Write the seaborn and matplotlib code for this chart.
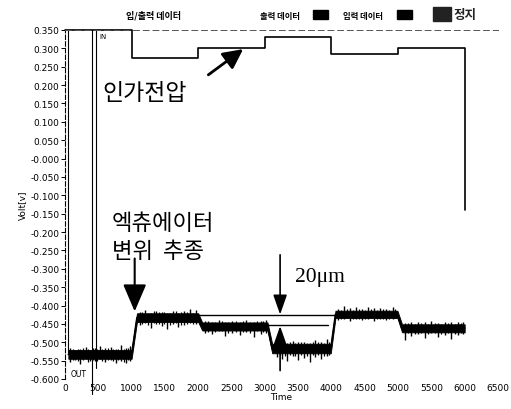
import numpy as np
import pandas as pd
import matplotlib
matplotlib.use("Agg")
import matplotlib.pyplot as plt
import seaborn as sns
from matplotlib.patches import Rectangle

sns.set_theme(style="white")
plt.rcParams['font.family'] = ['Noto Sans CJK KR', 'DejaVu Sans']
plt.rcParams['text.color'] = 'black'
plt.rcParams['axes.labelcolor'] = 'black'
plt.rcParams['xtick.color'] = 'black'
plt.rcParams['ytick.color'] = 'black'

# ---------------- data ----------------
# input (applied voltage) step signal
in_time = [0, 1000, 1000, 2000, 2000, 3000, 3000, 4000, 4000, 5000, 5000, 6000, 6000]
in_volt = [0.350, 0.350, 0.275, 0.275, 0.302, 0.302, 0.330, 0.330, 0.285, 0.285, 0.302, 0.302, -0.140]

# output (actuator displacement) mean level
out_time = [50, 1000, 1080, 2000, 2060, 3040, 3110, 3990, 4060, 4990, 5060, 6000]
out_level = [-0.533, -0.533, -0.433, -0.433, -0.457, -0.457, -0.517, -0.517, -0.424, -0.424, -0.462, -0.462]
out_spread = [0.012, 0.012, 0.012, 0.012, 0.011, 0.011, 0.013, 0.013, 0.010, 0.010, 0.011, 0.011]

# noise spikes of the output trace
spike_time = [80, 150, 230, 310, 380, 450, 520, 600, 690, 760, 840, 920, 980,
              1120, 1200, 1290, 1370, 1450, 1530, 1620, 1700, 1790, 1880, 1960,
              2100, 2200, 2310, 2400, 2500, 2620, 2720, 2830, 2940, 3010,
              3180, 3260, 3340, 3420, 3500, 3590, 3680, 3760, 3850, 3940,
              4100, 4190, 4280, 4370, 4460, 4550, 4640, 4730, 4820, 4920,
              5100, 5200, 5300, 5400, 5500, 5600, 5700, 5800, 5900, 5980]
spike_low = [-0.555, -0.548, -0.560, -0.545, -0.552, -0.550, -0.545, -0.553, -0.548, -0.556, -0.550, -0.557, -0.550,
             -0.452, -0.448, -0.460, -0.450, -0.455, -0.465, -0.450, -0.458, -0.452, -0.448, -0.450,
             -0.475, -0.478, -0.470, -0.482, -0.475, -0.480, -0.472, -0.485, -0.478, -0.476,
             -0.540, -0.545, -0.552, -0.538, -0.548, -0.542, -0.554, -0.540, -0.545, -0.538,
             -0.440, -0.438, -0.442, -0.436, -0.440, -0.438, -0.443, -0.437, -0.440, -0.436,
             -0.494, -0.482, -0.478, -0.488, -0.476, -0.485, -0.479, -0.490, -0.480, -0.478]
spike_high = [-0.515, -0.520, -0.518, -0.512, -0.520, -0.515, -0.510, -0.516, -0.512, -0.518, -0.508, -0.515, -0.510,
              -0.418, -0.412, -0.420, -0.415, -0.418, -0.420, -0.414, -0.420, -0.416, -0.410, -0.412,
              -0.443, -0.445, -0.440, -0.446, -0.442, -0.445, -0.440, -0.446, -0.443, -0.440,
              -0.498, -0.500, -0.502, -0.497, -0.500, -0.498, -0.503, -0.495, -0.500, -0.492,
              -0.410, -0.400, -0.408, -0.405, -0.410, -0.403, -0.408, -0.406, -0.410, -0.404,
              -0.448, -0.445, -0.444, -0.446, -0.443, -0.447, -0.444, -0.446, -0.445, -0.444]

# smaller in-between noise spikes
small_time = [115, 190, 270, 345, 415, 485, 560, 645, 725, 800, 880, 950,
              1160, 1245, 1330, 1410, 1490, 1575, 1660, 1745, 1835, 1920,
              2150, 2255, 2355, 2450, 2560, 2670, 2775, 2885, 2975,
              3220, 3300, 3380, 3460, 3545, 3635, 3720, 3805, 3895, 3970,
              4145, 4235, 4325, 4415, 4505, 4595, 4685, 4775, 4870, 4960,
              5150, 5250, 5350, 5450, 5550, 5650, 5750, 5850, 5940]
small_low = [-0.549, -0.551, -0.547, -0.553, -0.548, -0.550, -0.552, -0.547, -0.551, -0.549, -0.553, -0.548,
             -0.449, -0.452, -0.447, -0.451, -0.449, -0.453, -0.448, -0.452, -0.449, -0.451,
             -0.471, -0.473, -0.470, -0.474, -0.472, -0.471, -0.474, -0.470, -0.472,
             -0.535, -0.537, -0.534, -0.538, -0.535, -0.537, -0.536, -0.534, -0.538, -0.535,
             -0.437, -0.435, -0.438, -0.436, -0.437, -0.435, -0.438, -0.436, -0.437, -0.435,
             -0.476, -0.478, -0.475, -0.477, -0.476, -0.478, -0.475, -0.477, -0.476]
small_high = [-0.517, -0.519, -0.516, -0.518, -0.515, -0.519, -0.517, -0.516, -0.518, -0.517, -0.519, -0.516,
              -0.418, -0.419, -0.416, -0.418, -0.417, -0.419, -0.416, -0.418, -0.417, -0.419,
              -0.443, -0.444, -0.442, -0.444, -0.443, -0.442, -0.444, -0.443, -0.442,
              -0.500, -0.501, -0.499, -0.502, -0.500, -0.501, -0.499, -0.500, -0.502, -0.500,
              -0.411, -0.410, -0.412, -0.410, -0.411, -0.409, -0.412, -0.410, -0.411, -0.410,
              -0.448, -0.449, -0.447, -0.449, -0.448, -0.449, -0.447, -0.449, -0.448]

# cursor lines
cursor_time = [400, 470]
cursor_bottom = [-0.640, -0.570]

# reference lines for the 20 um step
ref_start = [2000, 3020]
ref_end = [4050, 3950]
ref_level = [-0.4245, -0.454]

y_ticks = [0.35 - 0.05 * i for i in range(20)]
x_ticks = list(range(0, 7000, 500))

# ---------------- figure ----------------
fig = plt.figure(figsize=(5.11, 4.10), dpi=100)
ax = fig.add_axes([65 / 511, 30 / 410, 433 / 511, 349 / 410])

df_in = pd.DataFrame({"Time": in_time, "Volt": in_volt})
df_out = pd.DataFrame({"Time": out_time, "Volt": out_level, "spread": out_spread})

# output band
lo = df_out["Volt"] - df_out["spread"]
hi = df_out["Volt"] + df_out["spread"]
ax.fill_between(df_out["Time"], lo, hi, color="black", lw=0.6, edgecolor="black")
ax.vlines(spike_time, spike_low, spike_high, color="black", lw=1.0)
ax.vlines(small_time, small_low, small_high, color="black", lw=0.9)
sns.lineplot(data=df_out, x="Time", y="Volt", estimator=None, sort=False,
             color="black", lw=1.2, ax=ax)

# input step line
sns.lineplot(data=df_in, x="Time", y="Volt", estimator=None, sort=False,
             color="black", lw=1.2, ax=ax, clip_on=False)

# cursor lines
for t, b in zip(cursor_time, cursor_bottom):
    ax.plot([t, t], [0.35, b], color="black", lw=0.8, clip_on=False)
ax.plot([50, 50], [0.35, -0.53], color="black", lw=0.8)

# reference lines
for s, e, v in zip(ref_start, ref_end, ref_level):
    ax.plot([s, e], [v, v], color="black", lw=1.0)

ax.set_xlim(0, 6500)
ax.set_ylim(-0.600, 0.350)
ax.set_xticks(x_ticks)
ax.set_xticklabels([str(t) for t in x_ticks], fontsize=6.5, family="DejaVu Sans")
ax.set_yticks(y_ticks)
ax.set_yticklabels([f"{v:.3f}" for v in y_ticks], fontsize=6.5, family="DejaVu Sans")
ax.tick_params(axis="y", direction="out", length=3, width=0.7, pad=1, left=True, color="black")
ax.tick_params(axis="x", direction="out", length=0, pad=3)
ax.set_xlabel("Time", fontsize=6.5, family="DejaVu Sans", labelpad=0)
ax.set_ylabel("Volt[v]", fontsize=6.5, family="DejaVu Sans", labelpad=2)

for s in ["right", "bottom"]:
    ax.spines[s].set_visible(False)
ax.spines["left"].set_linestyle((0, (4, 2)))
ax.spines["left"].set_linewidth(0.8)
ax.spines["left"].set_color("black")
ax.spines["top"].set_linestyle((0, (6, 4)))
ax.spines["top"].set_linewidth(0.7)
ax.spines["top"].set_color("#555555")

# small labels
ax.text(520, 0.335, "IN", fontsize=5, family="DejaVu Sans", va="center")
ax.text(80, -0.585, "OUT", fontsize=5.5, family="DejaVu Sans", va="center")

# annotations
ax.text(560, 0.181, "인가전압", fontsize=16.5, va="center", ha="left")
ax.annotate("", xy=(2675, 0.298), xytext=(2152, 0.228),
            arrowprops=dict(arrowstyle="-|>,head_length=1.0,head_width=0.5",
                            color="black", lw=2.0, shrinkA=0, shrinkB=0))

ax.text(700, -0.174, "엑츄에이터", fontsize=16, va="center", ha="left")
ax.text(700, -0.250, "변위  추종", fontsize=16, va="center", ha="left")
ax.annotate("", xy=(1046, -0.416), xytext=(1046, -0.272),
            arrowprops=dict(arrowstyle="-|>,head_length=1.4,head_width=0.6",
                            color="black", lw=1.5, shrinkA=0, shrinkB=0))

ax.text(3450, -0.321, "20μm", fontsize=15.5, family="Liberation Serif",
        va="center", ha="left")
ax.annotate("", xy=(3229, -0.4245), xytext=(3229, -0.262),
            arrowprops=dict(arrowstyle="-|>,head_length=1.0,head_width=0.35",
                            color="black", lw=1.2, shrinkA=0, shrinkB=0))
ax.annotate("", xy=(3229, -0.456), xytext=(3229, -0.577),
            arrowprops=dict(arrowstyle="-|>,head_length=1.0,head_width=0.35",
                            color="black", lw=1.2, shrinkA=0, shrinkB=0))

# header texts
fig.text(154 / 511, 1 - 16 / 410, "입/출력 데이터", fontsize=6.5, fontweight="bold",
         ha="center", va="center")
fig.text(260 / 511, 1 - 16 / 410, "출력 데이터", fontsize=6, fontweight="bold",
         ha="left", va="center")
fig.text(343 / 511, 1 - 16 / 410, "입력 데이터", fontsize=6, fontweight="bold",
         ha="left", va="center")
for x0 in [313, 397]:
    fig.patches.append(Rectangle((x0 / 511, 1 - 20 / 410), 15 / 511, 9 / 410,
                                 transform=fig.transFigure, color="black"))
fig.patches.append(Rectangle((433 / 511, 1 - 22 / 410), 18 / 511, 14 / 410,
                             transform=fig.transFigure, color="#222222"))
fig.text(454 / 511, 1 - 15 / 410, "정지", fontsize=9, fontweight="bold",
         ha="left", va="center", color="#222222")

fig.savefig("out.png", dpi=100)
